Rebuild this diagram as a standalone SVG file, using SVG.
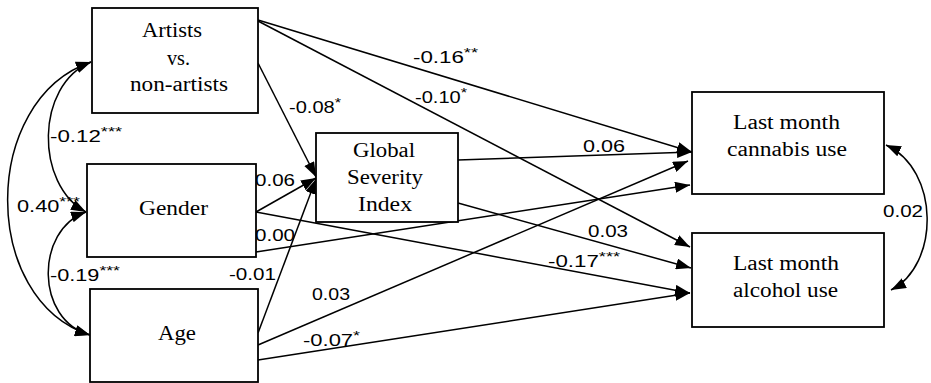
<svg xmlns="http://www.w3.org/2000/svg" width="931" height="383" viewBox="0 0 931 383">
<style>
.box{fill:#fff;stroke:#000;stroke-width:1.8}
.nt{font-family:"Liberation Serif","Times New Roman",serif;font-size:20px;fill:#000;text-anchor:start}
.lb{font-family:"Liberation Sans",Arial,sans-serif;font-size:16px;fill:#000}
.sup{font-size:13px}
.ln{fill:none;stroke:#000;stroke-width:1.5;marker-end:url(#ah)}
.cv{fill:none;stroke:#000;stroke-width:1.5;marker-start:url(#ah);marker-end:url(#ah)}
</style>
<defs>
<marker id="ah" markerUnits="userSpaceOnUse" viewBox="0 0 15 11" refX="15" refY="5.5" markerWidth="15" markerHeight="11" orient="auto-start-reverse">
<path d="M0,0 L15,5.5 L0,11 z" fill="#000"/>
</marker>
</defs>
<rect width="931" height="383" fill="#fff"/>
<g id="connectors">
<path class="ln" d="M258,20 L692,152"/>
<path class="ln" d="M258,21 L690,247"/>
<path class="ln" d="M258,63 L316,177"/>
<path class="ln" d="M256,212 L316,178"/>
<path class="ln" d="M258,333 L316,179"/>
<path class="ln" d="M458,160 L692,152"/>
<path class="ln" d="M458,203 L691,268"/>
<path class="ln" d="M256,252 L690,185"/>
<path class="ln" d="M256,212 L690,293"/>
<path class="ln" d="M258,345 L688,161"/>
<path class="ln" d="M258,360 L690,293"/>
<path class="cv" d="M91,62 C35,85 35,185 86,212"/>
<path class="cv" d="M91,62 C-20,100 -20,300 90,335"/>
<path class="cv" d="M86,212 C35,230 35,320 90,335"/>
<path class="cv" d="M886,145 C940,170 940,265 891,290"/>
</g>
<g id="labels">
<text class="lb" x="413" y="63" textLength="65" lengthAdjust="spacingAndGlyphs">-0.16<tspan class="sup" dy="-6">**</tspan></text>
<text class="lb" x="415" y="103" textLength="52" lengthAdjust="spacingAndGlyphs">-0.10<tspan class="sup" dy="-6">*</tspan></text>
<text class="lb" x="289" y="113" textLength="52" lengthAdjust="spacingAndGlyphs">-0.08<tspan class="sup" dy="-6">*</tspan></text>
<text class="lb" x="50" y="142" textLength="72" lengthAdjust="spacingAndGlyphs">-0.12<tspan class="sup" dy="-6">***</tspan></text>
<text class="lb" x="17" y="212" textLength="63" lengthAdjust="spacingAndGlyphs">0.40<tspan class="sup" dy="-6">***</tspan></text>
<text class="lb" x="50" y="281" textLength="70" lengthAdjust="spacingAndGlyphs">-0.19<tspan class="sup" dy="-6">***</tspan></text>
<text class="lb" x="255" y="186" textLength="40" lengthAdjust="spacingAndGlyphs">0.06</text>
<text class="lb" x="255" y="241" textLength="40" lengthAdjust="spacingAndGlyphs">0.00</text>
<text class="lb" x="229" y="280" textLength="47" lengthAdjust="spacingAndGlyphs">-0.01</text>
<text class="lb" x="312" y="300" textLength="38" lengthAdjust="spacingAndGlyphs">0.03</text>
<text class="lb" x="303" y="346" textLength="57" lengthAdjust="spacingAndGlyphs">-0.07<tspan class="sup" dy="-6">*</tspan></text>
<text class="lb" x="583" y="152" textLength="42" lengthAdjust="spacingAndGlyphs">0.06</text>
<text class="lb" x="588" y="237" textLength="40" lengthAdjust="spacingAndGlyphs">0.03</text>
<text class="lb" x="548" y="267" textLength="72" lengthAdjust="spacingAndGlyphs">-0.17<tspan class="sup" dy="-6">***</tspan></text>
<text class="lb" x="883" y="217" textLength="40" lengthAdjust="spacingAndGlyphs">0.02</text>
</g>
<g id="artists">
<rect class="box" x="92" y="8" width="166" height="105"/>
<text class="nt" x="142" y="37" textLength="60" lengthAdjust="spacingAndGlyphs">Artists</text>
<text class="nt" x="167" y="65" textLength="23" lengthAdjust="spacingAndGlyphs">vs.</text>
<text class="nt" x="130" y="91" textLength="98" lengthAdjust="spacingAndGlyphs">non-artists</text>
</g>
<g id="gender">
<rect class="box" x="87" y="164" width="169" height="93"/>
<text class="nt" x="139" y="215" textLength="69" lengthAdjust="spacingAndGlyphs">Gender</text>
</g>
<g id="age">
<rect class="box" x="90" y="289" width="168" height="93"/>
<text class="nt" x="158" y="340" textLength="38" lengthAdjust="spacingAndGlyphs">Age</text>
</g>
<g id="gsi">
<rect class="box" x="316" y="133" width="142" height="89"/>
<text class="nt" x="353" y="157" textLength="62" lengthAdjust="spacingAndGlyphs">Global</text>
<text class="nt" x="347" y="184" textLength="76" lengthAdjust="spacingAndGlyphs">Severity</text>
<text class="nt" x="358" y="211" textLength="54" lengthAdjust="spacingAndGlyphs">Index</text>
</g>
<g id="cannabis">
<rect class="box" x="692" y="92" width="192" height="102"/>
<text class="nt" x="733" y="129" textLength="107" lengthAdjust="spacingAndGlyphs">Last month</text>
<text class="nt" x="727" y="156" textLength="120" lengthAdjust="spacingAndGlyphs">cannabis use</text>
</g>
<g id="alcohol">
<rect class="box" x="692" y="233" width="192" height="94"/>
<text class="nt" x="733" y="270" textLength="106" lengthAdjust="spacingAndGlyphs">Last month</text>
<text class="nt" x="733" y="297" textLength="105" lengthAdjust="spacingAndGlyphs">alcohol use</text>
</g>
</svg>
